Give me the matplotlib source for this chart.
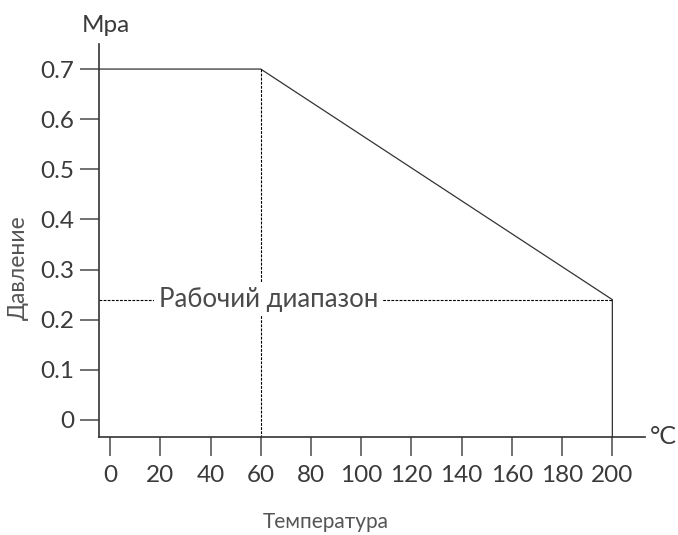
import matplotlib
matplotlib.use("Agg")
import matplotlib.pyplot as plt

plt.rcParams['font.family'] = ['Lato', 'DejaVu Sans']

# chart data
temp = [-4.4, 60, 200, 200]
pressure = [0.7, 0.7, 0.24, -0.034]
x_ticks = [0, 20, 40, 60, 80, 100, 120, 140, 160, 180, 200]
y_ticks = [0, 0.1, 0.2, 0.3, 0.4, 0.5, 0.6, 0.7]
y_labels = ['0', '0.1', '0.2', '0.3', '0.4', '0.5', '0.6', '0.7']
knee_t = 60
work_p = 0.24
end_t = 200

fig = plt.figure(figsize=(6.78, 5.35), dpi=100)
ax = fig.add_axes([99 / 678, 98 / 535, 546 / 678, 393 / 535])
ax.set_xlim(-4.4, 213)
ax.set_ylim(-0.034, 0.75)

dark = '#333333'
ax.plot(temp, pressure, color=dark, lw=0.9, clip_on=False)
ax.plot([knee_t, knee_t], [pressure[1], -0.034], color='black', lw=0.8,
        ls=(0, (2.5, 1.2)))
ax.plot([-4.4, end_t], [work_p, work_p], color='black', lw=0.8,
        ls=(0, (2.5, 1.2)))
ax.text(63, work_p, 'Рабочий диапазон', ha='center', va='center',
        fontsize=18.5, color='#4a4a4a',
        bbox=dict(facecolor='white', edgecolor='none', pad=3))

for s in ['top', 'right']:
    ax.spines[s].set_visible(False)
for s in ['left', 'bottom']:
    ax.spines[s].set_color(dark)
    ax.spines[s].set_linewidth(1.2)

ax.set_xticks(x_ticks)
ax.set_yticks(y_ticks)
ax.set_yticklabels(y_labels)
ax.tick_params(axis='both', colors='#666666', labelcolor='#3a3a3a',
               labelsize=17.5, length=14, width=1.3)
ax.tick_params(axis='x', pad=6)
ax.tick_params(axis='y', pad=4)

ax.text(-1.5, 0.787, 'Mpa', ha='center', va='center', fontsize=17.5,
        color='#3a3a3a')
ax.text(1.009, 0.0, '°C', transform=ax.transAxes, ha='left', va='center',
        fontsize=18, color='#3a3a3a')

fig.text(326 / 678, 1 - 522 / 535, 'Температура', ha='center', va='center',
         fontsize=15, color='#555555')
fig.text(18 / 678, 1 - 268 / 535, 'Давление', ha='center', va='center',
         rotation=90, fontsize=16.5, color='#555555')

fig.savefig('out.png', dpi=100)
